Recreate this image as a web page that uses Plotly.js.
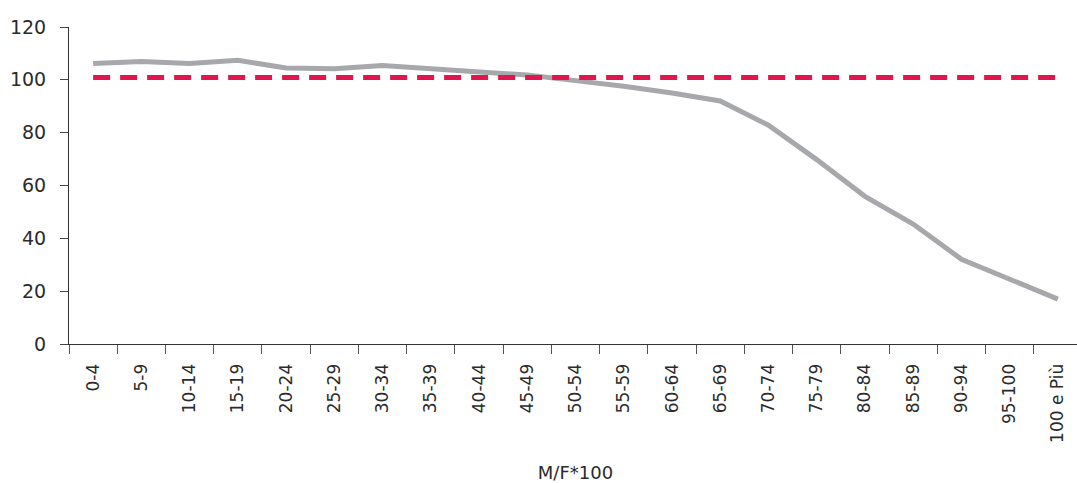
<!DOCTYPE html>
<html>
<head>
<meta charset="utf-8">
<script src="https://cdn.plot.ly/plotly-3.0.1.min.js"></script>
<style>
  html, body { margin: 0; padding: 0; background: #ffffff; overflow: hidden; }
  #chart { width: 1090px; height: 483px; }
</style>
</head>
<body>
<div id="chart"></div>
<script>
// Age classes (x-axis categories)
const categories = ['0-4','5-9','10-14','15-19','20-24','25-29','30-34','35-39','40-44','45-49',
                    '50-54','55-59','60-64','65-69','70-74','75-79','80-84','85-89','90-94','95-100','100 e Più'];

// Sex ratio M/F*100 by age class (grey line)
const ratioByAge = [106.2, 106.9, 106.2, 107.4, 104.5, 104.2, 105.4, 104.2, 103.0, 101.8,
                    99.7, 97.6, 95.0, 92.0, 82.8, 69.8, 55.9, 45.4, 32.1, 24.7, 17.0];

// Overall ratio (red dashed reference line)
const ratioTotal = [100.9, 100.9, 100.9, 100.9, 100.9, 100.9, 100.9, 100.9, 100.9, 100.9,
                    100.9, 100.9, 100.9, 100.9, 100.9, 100.9, 100.9, 100.9, 100.9, 100.9, 100.9];

// Y-axis ticks
const yTicks = [0, 20, 40, 60, 80, 100, 120];

const FONT = 'DejaVu Sans, sans-serif';
const TXT = '#2b2b2b';

const traces = [
  {
    type: 'scatter', mode: 'lines',
    x: categories, y: ratioByAge,
    line: { color: '#A7A8AC', width: 5 },
    hoverinfo: 'x+y', showlegend: false
  },
  {
    type: 'scatter', mode: 'lines',
    x: categories, y: ratioTotal,
    line: { color: '#E2164F', width: 5, dash: '17px,10px' },
    hoverinfo: 'x+y', showlegend: false
  }
];

const layout = {
  width: 1090, height: 483,
  margin: { l: 69, r: 8, t: 27, b: 139, pad: 0 },
  paper_bgcolor: '#ffffff', plot_bgcolor: '#ffffff',
  font: { family: FONT, size: 17, color: TXT },
  showlegend: false,
  xaxis: {
    type: 'category',
    categoryorder: 'array', categoryarray: categories,
    range: [-0.5, categories.length - 0.5],
    showgrid: false, zeroline: false,
    showline: true, linecolor: '#333333', linewidth: 1,
    ticks: 'outside', tickson: 'boundaries', ticklen: 9, tickwidth: 1, tickcolor: '#555555',
    tickangle: -90,
    tickfont: { family: FONT, size: 17, color: TXT },
    ticklabelstandoff: 12,
    automargin: false,
    title: { text: 'M/F*100', font: { family: FONT, size: 18, color: TXT }, standoff: 30 }
  },
  yaxis: {
    range: [0, 120],
    tickvals: yTicks, ticktext: yTicks.map(String),
    showgrid: false, zeroline: false,
    showline: true, linecolor: '#333333', linewidth: 1,
    ticks: 'outside', ticklen: 8, tickwidth: 1, tickcolor: '#444444',
    tickfont: { family: FONT, size: 19, color: TXT },
    ticklabelstandoff: 10,
    automargin: false
  }
};

Plotly.newPlot('chart', traces, layout, { displayModeBar: false, staticPlot: true });
</script>
</body>
</html>
